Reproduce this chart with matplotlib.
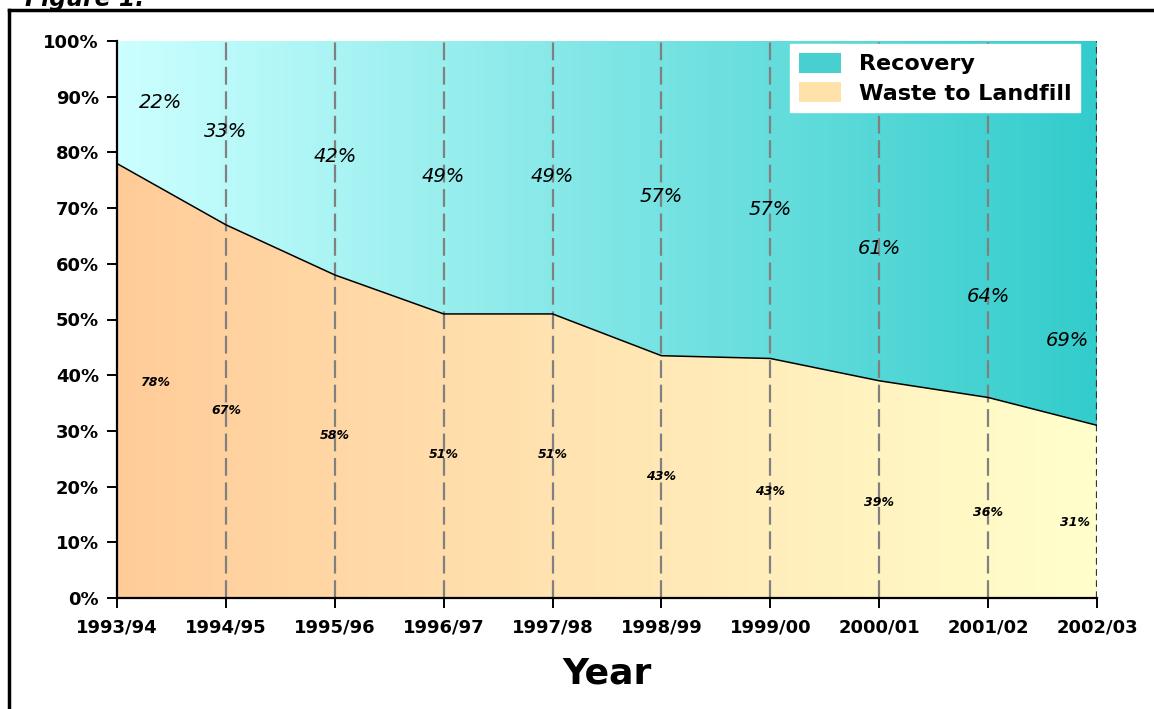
import numpy as np
import matplotlib
matplotlib.use("Agg")
import matplotlib.pyplot as plt
from matplotlib.colors import LinearSegmentedColormap
from matplotlib.patches import Patch

years = ["1993/94", "1994/95", "1995/96", "1996/97", "1997/98",
         "1998/99", "1999/00", "2000/01", "2001/02", "2002/03"]
landfill = [78, 67, 58, 51, 51, 43.5, 43, 39, 36, 31]
recovery = [22, 33, 42, 49, 49, 56.5, 57, 61, 64, 69]
recovery_labels = ["22%", "33%", "42%", "49%", "49%", "57%", "57%", "61%", "64%", "69%"]
landfill_labels = ["78%", "67%", "58%", "51%", "51%", "43%", "43%", "39%", "36%", "31%"]

# where the data labels sit (% of axis height)
recovery_label_y = [88.9, 83.7, 79.2, 75.6, 75.6, 72.0, 69.7, 62.8, 54.2, 46.3]
landfill_label_y = [38.6, 33.6, 29.1, 25.7, 25.7, 21.9, 19.2, 17.1, 15.4, 13.6]

plt.rcParams['font.family'] = ['DejaVu Sans']

fig = plt.figure(figsize=(11.54, 7.09), dpi=100)
ax = fig.add_axes([117 / 1154, 1 - 598 / 709, 980 / 1154, 557 / 709])

x = np.arange(len(years))
top = np.array(landfill) + np.array(recovery)

# gradient fills clipped to each area
rec_cmap = LinearSegmentedColormap.from_list("rec", ["#CCFFFF", "#33CCCC"])
lf_cmap = LinearSegmentedColormap.from_list("lf", ["#FFCC99", "#FFFFCC"])
grad = np.linspace(0, 1, 256).reshape(1, -1)

rec_poly = ax.fill_between(x, landfill, top, color="none", linewidth=0)
lf_poly = ax.fill_between(x, 0, landfill, color="none", linewidth=0)

im1 = ax.imshow(grad, cmap=rec_cmap, aspect="auto", extent=[0, 9, 0, 100], zorder=1)
im1.set_clip_path(rec_poly.get_paths()[0], transform=ax.transData)
im2 = ax.imshow(grad, cmap=lf_cmap, aspect="auto", extent=[0, 9, 0, 100], zorder=1)
im2.set_clip_path(lf_poly.get_paths()[0], transform=ax.transData)

ax.plot(x, landfill, color="black", linewidth=1.1, zorder=3)

# vertical dashed gridlines
for xi in x[1:-1]:
    ax.axvline(xi, color="#808080", linewidth=1.6, dashes=(8, 3), zorder=2)
ax.axvline(x[-1], color="#333333", linewidth=1.6, dashes=(3, 2), zorder=2)

# data labels
for i in x:
    dx = 0.0
    if i == 0:
        dx = 0.4
    elif i == len(x) - 1:
        dx = -0.27
    ax.text(i + dx, recovery_label_y[i], recovery_labels[i],
            ha="center", va="center", fontsize=14, style="italic", zorder=4)
    dx2 = 0.0
    if i == 0:
        dx2 = 0.35
    elif i == len(x) - 1:
        dx2 = -0.2
    ax.text(i + dx2, landfill_label_y[i], landfill_labels[i],
            ha="center", va="center", fontsize=9, style="italic",
            fontweight="bold", zorder=4)

ax.set_xlim(0, 9)
ax.set_ylim(0, 100)
ax.set_xticks(x)
ax.set_xticklabels(years, fontsize=13, fontweight="bold")
ax.set_yticks(np.arange(0, 101, 10))
ax.set_yticklabels([f"{v}%" for v in range(0, 101, 10)], fontsize=13, fontweight="bold")
ax.tick_params(axis="both", direction="out", length=7, width=1.4)
ax.tick_params(axis="x", pad=8)
ax.tick_params(axis="y", pad=6)
for s in ["top", "right"]:
    ax.spines[s].set_visible(False)
for s in ["left", "bottom"]:
    ax.spines[s].set_linewidth(1.6)

ax.set_xlabel("Year", fontsize=26, fontweight="bold", labelpad=14)

handles = [Patch(facecolor="#48D0D0", edgecolor="none"),
           Patch(facecolor="#FFE2AA", edgecolor="none")]
leg = ax.legend(handles, ["Recovery", "Waste to Landfill"], loc="upper right",
                bbox_to_anchor=(0.983, 0.995), borderaxespad=0, fancybox=False,
                framealpha=1, edgecolor="white",
                prop={"weight": "bold", "size": 16}, handlelength=1.9,
                handleheight=1.0, handletextpad=0.8, labelspacing=0.35,
                borderpad=0.4)
leg.set_zorder(5)

# outer frame and cut-off caption
fig.add_artist(plt.Line2D([9 / 1154, 9 / 1154], [0, 1 - 10 / 709],
                          color="black", linewidth=2.5))
fig.add_artist(plt.Line2D([9 / 1154, 1], [1 - 10 / 709, 1 - 10 / 709],
                          color="black", linewidth=2.5))
fig.text(25 / 1154, 1 - 6 / 709, "Figure 1:", fontsize=17, fontweight="bold",
         style="italic", va="baseline")

fig.savefig("out.png", dpi=100)
